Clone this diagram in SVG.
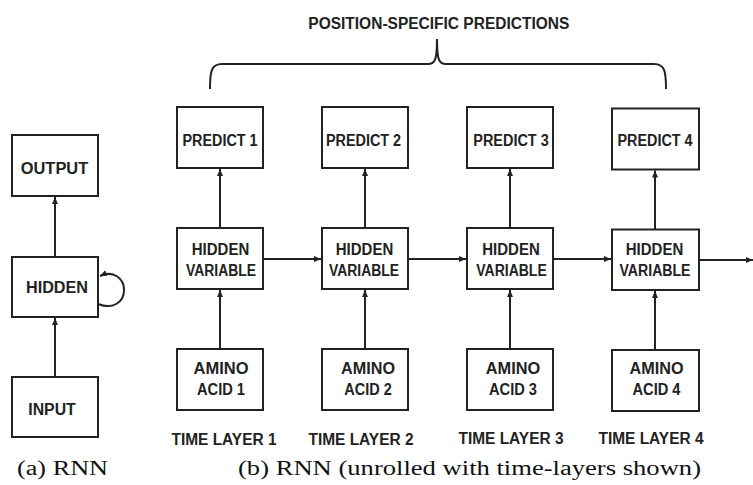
<svg xmlns="http://www.w3.org/2000/svg" width="753" height="485" viewBox="0 0 753 485">
  <style>
    .box { fill: #ffffff; stroke: #222222; stroke-width: 2; }
    .lbl { font-family: "Liberation Sans", Arial, sans-serif; font-weight: bold; font-size: 16.8px; fill: #222222; text-anchor: middle; }
    .cap { font-family: "Liberation Serif", "Times New Roman", serif; font-size: 20px; fill: #111111; }
    .wire { fill: none; stroke: #222222; stroke-width: 2; }
  </style>
  <defs>
    <marker id="arrow" markerUnits="userSpaceOnUse" markerWidth="8" markerHeight="7" refX="7" refY="3.5" orient="auto">
      <path d="M0,0.5 L7,3.5 L0,6.5 z" fill="#222222"/>
    </marker>
  </defs>
  <rect width="753" height="485" fill="#ffffff"/>

  <!-- (a) folded RNN -->
  <g id="a-output"><rect class="box" x="12" y="135" width="86" height="61"/><text class="lbl" x="54.5" y="174" textLength="67.5" lengthAdjust="spacingAndGlyphs">OUTPUT</text></g>
  <g id="a-hidden"><rect class="box" x="12" y="257" width="86" height="60"/><text class="lbl" x="57" y="293" textLength="62" lengthAdjust="spacingAndGlyphs">HIDDEN</text></g>
  <g id="a-input"><rect class="box" x="12" y="377" width="86" height="60"/><text class="lbl" x="52" y="415" textLength="47.5" lengthAdjust="spacingAndGlyphs">INPUT</text></g>

  <!-- (b) unrolled RNN: predictions -->
  <g id="predict-1"><rect class="box" x="177" y="107" width="86" height="61"/><text class="lbl" x="220" y="145.5" textLength="75" lengthAdjust="spacingAndGlyphs">PREDICT 1</text></g>
  <g id="predict-2"><rect class="box" x="322" y="107" width="86" height="61"/><text class="lbl" x="363.5" y="145.5" textLength="75" lengthAdjust="spacingAndGlyphs">PREDICT 2</text></g>
  <g id="predict-3"><rect class="box" x="467" y="107" width="86" height="61"/><text class="lbl" x="511" y="145.5" textLength="75.5" lengthAdjust="spacingAndGlyphs">PREDICT 3</text></g>
  <g id="predict-4"><rect class="box" x="612" y="108.5" width="87" height="61"/><text class="lbl" x="655" y="145.5" textLength="75" lengthAdjust="spacingAndGlyphs">PREDICT 4</text></g>

  <!-- hidden variables -->
  <g id="hidden-1"><rect class="box" x="177" y="228" width="86" height="61"/><text class="lbl" x="220.5" y="254.5" textLength="57.5" lengthAdjust="spacingAndGlyphs">HIDDEN</text><text class="lbl" x="221" y="276" textLength="70" lengthAdjust="spacingAndGlyphs">VARIABLE</text></g>
  <g id="hidden-2"><rect class="box" x="322" y="228" width="86" height="61"/><text class="lbl" x="364.5" y="254.5" textLength="57.5" lengthAdjust="spacingAndGlyphs">HIDDEN</text><text class="lbl" x="364" y="276" textLength="70" lengthAdjust="spacingAndGlyphs">VARIABLE</text></g>
  <g id="hidden-3"><rect class="box" x="467" y="228" width="86" height="61"/><text class="lbl" x="511" y="254.5" textLength="57.5" lengthAdjust="spacingAndGlyphs">HIDDEN</text><text class="lbl" x="511.5" y="276" textLength="70.5" lengthAdjust="spacingAndGlyphs">VARIABLE</text></g>
  <g id="hidden-4"><rect class="box" x="612" y="229.5" width="87" height="60.5"/><text class="lbl" x="654.5" y="254.5" textLength="57.5" lengthAdjust="spacingAndGlyphs">HIDDEN</text><text class="lbl" x="655" y="276" textLength="71" lengthAdjust="spacingAndGlyphs">VARIABLE</text></g>

  <!-- amino-acid inputs -->
  <g id="amino-1"><rect class="box" x="177" y="349" width="86" height="61"/><text class="lbl" x="221" y="373.5" textLength="55" lengthAdjust="spacingAndGlyphs">AMINO</text><text class="lbl" x="221" y="394.5" textLength="48" lengthAdjust="spacingAndGlyphs">ACID 1</text></g>
  <g id="amino-2"><rect class="box" x="322" y="349" width="86" height="61"/><text class="lbl" x="368" y="373.5" textLength="54" lengthAdjust="spacingAndGlyphs">AMINO</text><text class="lbl" x="368" y="394.5" textLength="47.5" lengthAdjust="spacingAndGlyphs">ACID 2</text></g>
  <g id="amino-3"><rect class="box" x="467" y="349" width="86" height="61"/><text class="lbl" x="513" y="374" textLength="54.5" lengthAdjust="spacingAndGlyphs">AMINO</text><text class="lbl" x="513" y="395" textLength="48" lengthAdjust="spacingAndGlyphs">ACID 3</text></g>
  <g id="amino-4"><rect class="box" x="612" y="350" width="87" height="61"/><text class="lbl" x="656.5" y="374" textLength="54" lengthAdjust="spacingAndGlyphs">AMINO</text><text class="lbl" x="656.5" y="395" textLength="48" lengthAdjust="spacingAndGlyphs">ACID 4</text></g>

  <!-- time-layer labels -->
  <g id="time-layers">
    <text class="lbl" x="224" y="444.5" textLength="105" lengthAdjust="spacingAndGlyphs">TIME LAYER 1</text>
    <text class="lbl" x="361" y="444.5" textLength="105" lengthAdjust="spacingAndGlyphs">TIME LAYER 2</text>
    <text class="lbl" x="511" y="444" textLength="105" lengthAdjust="spacingAndGlyphs">TIME LAYER 3</text>
    <text class="lbl" x="651" y="444" textLength="105" lengthAdjust="spacingAndGlyphs">TIME LAYER 4</text>
  </g>

  <!-- brace over the predictions -->
  <g id="brace">
    <path class="wire" d="M210,89 C210,72 211,64 222,64 L428,64 C435,64 437,60 437,39 C437,60 439,64 446,64 L654,64 C665,64 666,72 666,89"/>
    <text class="lbl" x="438.8" y="28.5" textLength="261" lengthAdjust="spacingAndGlyphs">POSITION-SPECIFIC PREDICTIONS</text>
  </g>

  <!-- connectors -->
  <g id="connectors">
    <line class="wire" x1="55" y1="257" x2="55" y2="197" marker-end="url(#arrow)"/>
    <line class="wire" x1="55" y1="377" x2="55" y2="318" marker-end="url(#arrow)"/>
    <path class="wire" d="M98,304 C113,310 124,302 124,290 C124,278 113,270 100,276" marker-end="url(#arrow)"/>

    <line class="wire" x1="220" y1="228" x2="220" y2="169" marker-end="url(#arrow)"/>
    <line class="wire" x1="365" y1="228" x2="365" y2="169" marker-end="url(#arrow)"/>
    <line class="wire" x1="510" y1="228" x2="510" y2="169" marker-end="url(#arrow)"/>
    <line class="wire" x1="655" y1="229.5" x2="655" y2="170.5" marker-end="url(#arrow)"/>

    <line class="wire" x1="220" y1="349" x2="220" y2="290" marker-end="url(#arrow)"/>
    <line class="wire" x1="365" y1="349" x2="365" y2="290" marker-end="url(#arrow)"/>
    <line class="wire" x1="510" y1="349" x2="510" y2="290" marker-end="url(#arrow)"/>
    <line class="wire" x1="655" y1="350" x2="655" y2="291" marker-end="url(#arrow)"/>

    <line class="wire" x1="263" y1="259" x2="321" y2="259" marker-end="url(#arrow)"/>
    <line class="wire" x1="408" y1="259" x2="466" y2="259" marker-end="url(#arrow)"/>
    <line class="wire" x1="553" y1="259" x2="611" y2="259" marker-end="url(#arrow)"/>
    <line class="wire" x1="699" y1="260" x2="753" y2="260" marker-end="url(#arrow)"/>
  </g>

  <!-- captions -->
  <text class="cap" x="17" y="475" textLength="91" lengthAdjust="spacingAndGlyphs">(a) RNN</text>
  <text class="cap" x="238" y="475" textLength="463" lengthAdjust="spacingAndGlyphs">(b) RNN (unrolled with time-layers shown)</text>
</svg>
